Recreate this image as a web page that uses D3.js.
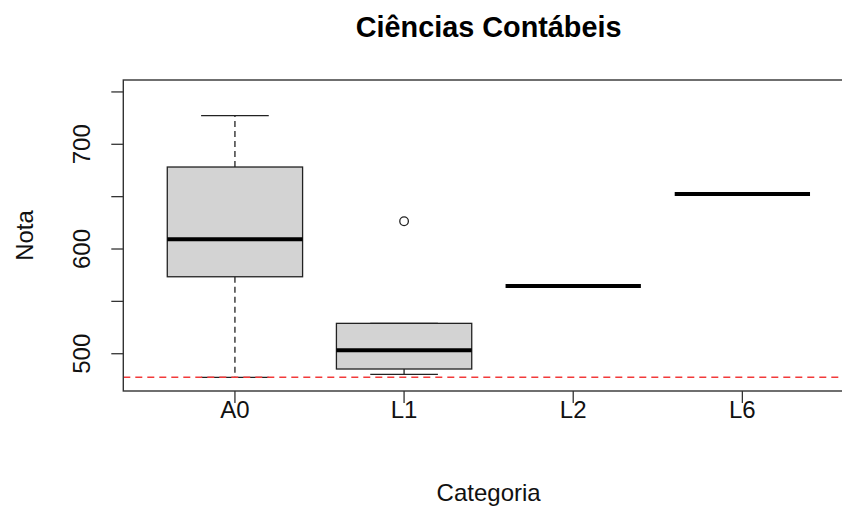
<!DOCTYPE html>
<html>
<head>
<meta charset="utf-8">
<script src="https://cdn.jsdelivr.net/npm/d3@7/dist/d3.min.js"></script>
<style>
  html, body { margin: 0; padding: 0; background: #fff; }
  svg { display: block; font-family: "Liberation Sans", Arial, sans-serif; }
</style>
</head>
<body>
<svg id="chart" width="842" height="511"></svg>
<script>
// Box plot of grades ("Nota") by category for Ciências Contábeis
const categories = ["A0", "L1", "L2", "L6"];
const whiskerLow  = [477.5, 480.3, 564.7, 652.5];
const q1          = [573.5, 485.4, 564.7, 652.5];
const medians     = [609.3, 503.2, 564.7, 652.5];
const q3          = [678.3, 529.0, 564.7, 652.5];
const whiskerHigh = [727.3, 529.0, 564.7, 652.5];
const outliers    = [[], [626.5], [], []];
const yTicks = [500, 550, 600, 650, 700, 750];
const yTickLabels = [500, 600, 700];
const referenceLine = 477.5;

const svg = d3.select("#chart");
const plotLeft = 123.3, plotRight = 854, plotTop = 80, plotBottom = 391;

const x = d3.scaleLinear().domain([0.34, 4.66]).range([plotLeft, plotRight]);
const y = d3.scaleLinear().domain([464.4, 761.4]).range([plotBottom, plotTop]);

const boxes = categories.map((c, i) => ({
  c, pos: i + 1, lo: whiskerLow[i], q1: q1[i], med: medians[i],
  q3: q3[i], hi: whiskerHigh[i], out: outliers[i]
}));

const g = svg.append("g");
const ink = "#222";

// whiskers (dashed) and caps
boxes.forEach(b => {
  const cx = x(b.pos);
  if (b.hi > b.q3) {
    g.append("line").attr("x1", cx).attr("x2", cx).attr("y1", y(b.q3)).attr("y2", y(b.hi))
      .attr("stroke", ink).attr("stroke-width", 1.3).attr("stroke-dasharray", "6,4");
  }
  if (b.lo < b.q1) {
    g.append("line").attr("x1", cx).attr("x2", cx).attr("y1", y(b.q1)).attr("y2", y(b.lo))
      .attr("stroke", ink).attr("stroke-width", 1.3).attr("stroke-dasharray", "6,4");
  }
  [b.lo, b.hi].forEach(v => {
    g.append("line").attr("x1", x(b.pos - 0.2)).attr("x2", x(b.pos + 0.2))
      .attr("y1", y(v)).attr("y2", y(v)).attr("stroke", ink).attr("stroke-width", 1.3);
  });
});

// boxes
boxes.forEach(b => {
  const x0 = x(b.pos - 0.4), x1 = x(b.pos + 0.4);
  if (b.q3 > b.q1) {
    g.append("rect").attr("x", x0).attr("y", y(b.q3))
      .attr("width", x1 - x0).attr("height", y(b.q1) - y(b.q3))
      .attr("fill", "#d3d3d3").attr("stroke", ink).attr("stroke-width", 1.3);
  }
  g.append("line").attr("x1", x0).attr("x2", x1).attr("y1", y(b.med)).attr("y2", y(b.med))
    .attr("stroke", "#000").attr("stroke-width", 4);
  b.out.forEach(v => {
    g.append("circle").attr("cx", x(b.pos)).attr("cy", y(v)).attr("r", 4.3)
      .attr("fill", "none").attr("stroke", ink).attr("stroke-width", 1.3);
  });
});

// reference line
g.append("line").attr("x1", plotLeft).attr("x2", plotRight)
  .attr("y1", y(referenceLine)).attr("y2", y(referenceLine))
  .attr("stroke", "#f23a3a").attr("stroke-width", 1.5).attr("stroke-dasharray", "7,5");

// plot frame
svg.append("rect").attr("x", plotLeft).attr("y", plotTop)
  .attr("width", plotRight - plotLeft).attr("height", plotBottom - plotTop)
  .attr("fill", "none").attr("stroke", "#333").attr("stroke-width", 1.4);

// y axis ticks and labels
const yAxis = svg.append("g");
yTicks.forEach(t => {
  yAxis.append("line").attr("x1", plotLeft - 12).attr("x2", plotLeft).attr("y1", y(t)).attr("y2", y(t))
    .attr("stroke", "#333").attr("stroke-width", 1.3);
});
yTickLabels.forEach(t => {
  yAxis.append("text").attr("transform", `translate(90,${y(t)}) rotate(-90)`)
    .attr("text-anchor", "middle").attr("font-size", 24).attr("fill", "#111").text(t);
});

// x axis ticks and labels
const xAxis = svg.append("g");
boxes.forEach(b => {
  xAxis.append("line").attr("x1", x(b.pos)).attr("x2", x(b.pos)).attr("y1", plotBottom).attr("y2", plotBottom + 12)
    .attr("stroke", "#333").attr("stroke-width", 1.3);
  xAxis.append("text").attr("x", x(b.pos)).attr("y", 418).attr("text-anchor", "middle")
    .attr("font-size", 24).attr("fill", "#111").text(b.c);
});

// titles
svg.append("text").attr("x", (plotLeft + plotRight) / 2).attr("y", 37).attr("text-anchor", "middle")
  .attr("font-size", 28.8).attr("font-weight", "bold").attr("fill", "#000").text("Ciências Contábeis");
svg.append("text").attr("x", (plotLeft + plotRight) / 2).attr("y", 501).attr("text-anchor", "middle")
  .attr("font-size", 24).attr("fill", "#111").text("Categoria");
svg.append("text").attr("transform", `translate(33,${(plotTop + plotBottom) / 2}) rotate(-90)`)
  .attr("text-anchor", "middle").attr("font-size", 24).attr("fill", "#111").text("Nota");
</script>
</body>
</html>
